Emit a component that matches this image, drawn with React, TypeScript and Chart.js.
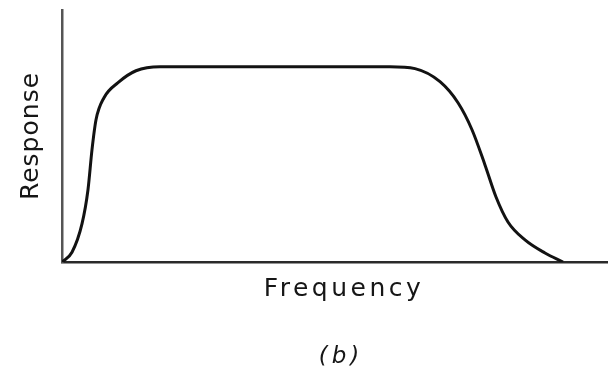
import React, { useEffect, useRef } from "react";
import { Chart, registerables } from "chart.js";

Chart.register(...registerables);

// Frequency (arbitrary units, 0–100) and normalised response
const frequency = [0, 1.83, 3.66, 4.76, 5.49, 6.23, 7.69, 10.26, 13.55, 17.95, 60.07, 64.65, 69.23, 72.53, 75.09, 77.47, 79.49, 81.68, 84.8, 88.46, 91.76];
const response = [0, 0.05, 0.195, 0.37, 0.574, 0.728, 0.841, 0.918, 0.979, 1.0, 1.0, 0.99, 0.923, 0.815, 0.677, 0.497, 0.333, 0.205, 0.113, 0.046, 0];

const xLabel = "Frequency";
const yLabel = "Response";
const caption = "(b)";

const labelsPlugin = {
  id: "figureLabels",
  afterDraw(chart: any) {
    const ctx = chart.ctx as CanvasRenderingContext2D & { letterSpacing?: string };
    const area = chart.chartArea;
    ctx.save();
    ctx.fillStyle = "#161616";
    ctx.textAlign = "center";
    ctx.textBaseline = "middle";
    ctx.font = "25px 'DejaVu Sans'";

    // y label
    ctx.save();
    ctx.letterSpacing = "1px";
    ctx.translate(area.left - 31, area.top + 126);
    ctx.rotate(-Math.PI / 2);
    ctx.fillText(yLabel, 0, 0);
    ctx.restore();

    // x label
    ctx.save();
    ctx.letterSpacing = "3.5px";
    ctx.fillText(xLabel, 344, area.bottom + 27);
    ctx.restore();

    // caption
    ctx.save();
    ctx.font = "italic 23px 'DejaVu Sans'";
    ctx.letterSpacing = "4px";
    ctx.fillText(caption, 341, area.bottom + 95);
    ctx.restore();

    ctx.restore();
  },
};

export default function App() {
  const canvasRef = useRef<HTMLCanvasElement | null>(null);

  useEffect(() => {
    document.body.style.margin = "0";
    const canvas = canvasRef.current;
    if (!canvas) return;
    const chart = new Chart(canvas, {
      type: "line",
      data: {
        datasets: [
          {
            data: frequency.map((f, i) => ({ x: f, y: response[i] })),
            borderColor: "#121212",
            borderWidth: 3,
            pointRadius: 0,
            fill: false,
            cubicInterpolationMode: "monotone",
          },
        ],
      },
      options: {
        animation: false,
        responsive: false,
        maintainAspectRatio: false,
        layout: { padding: { left: 62, top: 10, right: 0, bottom: 115 } },
        plugins: {
          legend: { display: false },
          tooltip: { enabled: false },
          title: { display: false },
        },
        scales: {
          x: {
            type: "linear",
            min: 0,
            max: 100,
            ticks: { display: false },
            grid: { display: false, drawTicks: false },
            border: { display: true, color: "#2a2a2a", width: 2.5 },
          },
          y: {
            type: "linear",
            min: 0,
            max: 1.29,
            ticks: { display: false },
            grid: { display: false, drawTicks: false },
            border: { display: true, color: "#555555", width: 2.5 },
          },
        },
      },
      plugins: [labelsPlugin],
    });
    return () => chart.destroy();
  }, []);

  return (
    <div style={{ width: 608, height: 377, background: "#ffffff" }}>
      <canvas ref={canvasRef} width={608} height={377} style={{ display: "block" }} />
    </div>
  );
}
